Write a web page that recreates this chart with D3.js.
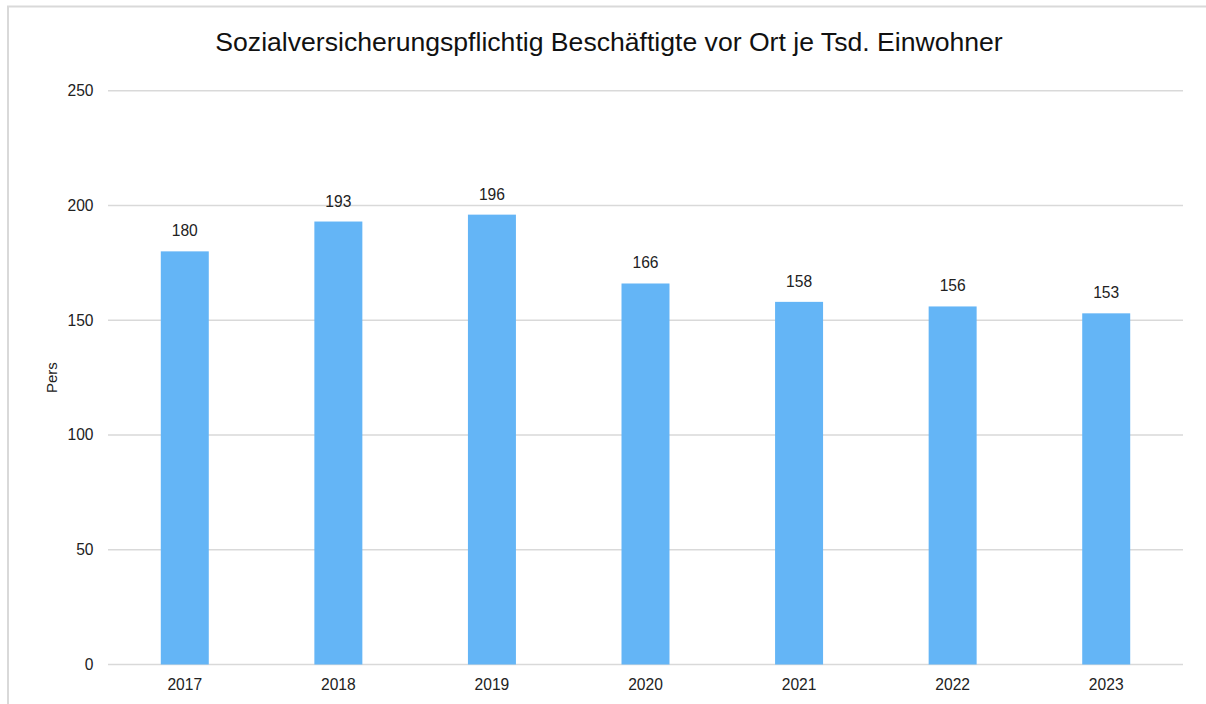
<!DOCTYPE html>
<html>
<head>
<meta charset="utf-8">
<script src="https://cdn.jsdelivr.net/npm/d3@7"></script>
<style>
  body { margin: 0; background: #fff; }
  svg { display: block; font-family: "Liberation Sans", Arial, sans-serif; }
</style>
</head>
<body>
<div id="chart"></div>
<script>
// DATA
const years = ["2017", "2018", "2019", "2020", "2021", "2022", "2023"];
const values = [180, 193, 196, 166, 158, 156, 153];
const yTicks = [0, 50, 100, 150, 200, 250];
const title = "Sozialversicherungspflichtig Beschäftigte vor Ort je Tsd. Einwohner";
const yTitle = "Pers";

// DIMENSIONS
const width = 1206;
const height = 704;
const plot = { left: 108, right: 1183, top: 90.7, bottom: 664.5 };
const labelSize = 15.6;

const svg = d3.select("#chart")
  .append("svg")
  .attr("width", width)
  .attr("height", height);

// outer frame (only left and top edges fall inside the window)
svg.append("rect")
  .attr("x", 8)
  .attr("y", 6.5)
  .attr("width", width + 20)
  .attr("height", height + 20)
  .attr("fill", "none")
  .attr("stroke", "#d9d9d9")
  .attr("stroke-width", 2);

// scales
const x = d3.scaleBand()
  .domain(years)
  .range([plot.left, plot.right])
  .paddingInner(0.6875)
  .paddingOuter(0.34375);

const y = d3.scaleLinear()
  .domain([0, 250])
  .range([plot.bottom, plot.top]);

// gridlines
svg.append("g")
  .selectAll("line")
  .data(yTicks)
  .join("line")
    .attr("x1", plot.left)
    .attr("x2", plot.right)
    .attr("y1", d => y(d))
    .attr("y2", d => y(d))
    .attr("stroke", "#d9d9d9")
    .attr("stroke-width", 1.5);

// y tick labels
svg.append("g")
    .attr("fill", "#222")
    .attr("text-anchor", "end")
    .attr("font-size", labelSize)
  .selectAll("text")
  .data(yTicks)
  .join("text")
    .attr("x", 93.5)
    .attr("y", d => y(d))
    .attr("dy", "0.35em")
    .text(d => d);

// bars
svg.append("g")
    .attr("fill", "#64b5f6")
  .selectAll("rect")
  .data(values)
  .join("rect")
    .attr("x", (d, i) => x(years[i]))
    .attr("y", d => y(d))
    .attr("width", x.bandwidth())
    .attr("height", d => y(0) - y(d));

// value labels
svg.append("g")
    .attr("fill", "#222")
    .attr("text-anchor", "middle")
    .attr("font-size", labelSize)
  .selectAll("text")
  .data(values)
  .join("text")
    .attr("x", (d, i) => x(years[i]) + x.bandwidth() / 2)
    .attr("y", d => y(d) - 15)
    .text(d => d);

// x labels
svg.append("g")
    .attr("fill", "#222")
    .attr("text-anchor", "middle")
    .attr("font-size", labelSize)
  .selectAll("text")
  .data(years)
  .join("text")
    .attr("x", d => x(d) + x.bandwidth() / 2)
    .attr("y", 689.5)
    .text(d => d);

// y axis title
svg.append("text")
  .attr("transform", `translate(57, ${(plot.top + plot.bottom) / 2}) rotate(-90)`)
  .attr("text-anchor", "middle")
  .attr("font-size", 15)
  .attr("fill", "#222")
  .text(yTitle);

// chart title
svg.append("text")
  .attr("x", 609)
  .attr("y", 51)
  .attr("text-anchor", "middle")
  .attr("font-size", 26.6)
  .attr("fill", "#111")
  .text(title);
</script>
</body>
</html>
